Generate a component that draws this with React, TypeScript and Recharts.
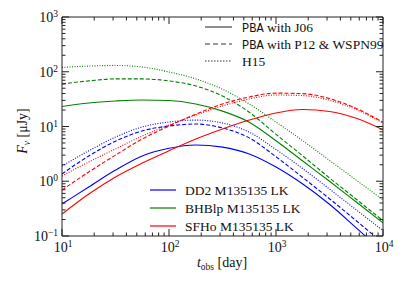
import React from 'react'
import { LineChart, Line, XAxis, YAxis } from 'recharts'

// observer time in days (log-spaced samples)
const times = [10, 17.8, 31.6, 56.2, 100, 178, 316, 562, 1000, 1778, 3162, 5623, 10000]

// flux density in microJy
const dd2J06 = [0.384, 0.785, 1.6, 2.9, 4.0, 4.6, 4.2, 3.15, 1.82, 0.89, 0.38, 0.141, 0.051]
const dd2P12 = [1.36, 2.9, 5.4, 8.3, 10.2, 11.1, 9.4, 6.2, 2.8, 1.17, 0.48, 0.19, 0.074]
const dd2H15 = [1.9, 3.6, 6.4, 9.8, 12.1, 13.1, 11.6, 7.9, 3.8, 1.7, 0.72, 0.3, 0.126]
const bhbJ06 = [23.2, 26.9, 29.2, 30.5, 29.8, 25.7, 19.1, 12.0, 5.5, 2.34, 1.0, 0.417, 0.174]
const bhbP12 = [60, 68, 74, 74, 68, 55, 36, 18.2, 7.2, 2.9, 1.15, 0.47, 0.19]
const bhbH15 = [120, 127, 130, 122, 99, 74, 48, 25.8, 12.1, 5.5, 2.4, 1.05, 0.457]
const sfhoJ06 = [0.252, 0.585, 1.2, 2.15, 3.6, 5.9, 9.0, 13.1, 17.7, 20.4, 18.8, 14.1, 8.7]
const sfhoP12 = [0.69, 1.48, 3.0, 5.9, 10.2, 16.8, 25.8, 34.6, 40.7, 39.8, 32.4, 21.4, 12.0]
const sfhoH15 = [1.25, 2.25, 3.9, 6.7, 10.6, 16.2, 23.7, 31.8, 37.6, 36.7, 30.2, 20.4, 11.5]

const xTicks = [10, 20, 30, 40, 50, 60, 70, 80, 90, 100, 200, 300, 400, 500, 600, 700, 800, 900,
  1000, 2000, 3000, 4000, 5000, 6000, 7000, 8000, 9000, 10000]
const yTicks = [0.1, 0.2, 0.3, 0.4, 0.5, 0.6, 0.7, 0.8, 0.9, 1, 2, 3, 4, 5, 6, 7, 8, 9,
  10, 20, 30, 40, 50, 60, 70, 80, 90, 100, 200, 300, 400, 500, 600, 700, 800, 900, 1000]

const models = ['DD2 M135135 LK', 'BHBlp M135135 LK', 'SFHo M135135 LK']
const modelColors = ['#0000ff', '#008000', '#ff0000']

const data = times.map((t, i) => ({
  t,
  dd2J06: dd2J06[i], dd2P12: dd2P12[i], dd2H15: dd2H15[i],
  bhbJ06: bhbJ06[i], bhbP12: bhbP12[i], bhbH15: bhbH15[i],
  sfhoJ06: sfhoJ06[i], sfhoP12: sfhoP12[i], sfhoH15: sfhoH15[i]
}))

const serif = '"Liberation Serif", "DejaVu Serif", serif'
const mono = '"Liberation Mono", "DejaVu Sans Mono", monospace'
const frame = '#222'

const isMajor = (v: number) => Math.abs(Math.log10(v) - Math.round(Math.log10(v))) < 1e-6

function expLabel(v: number) {
  const e = Math.round(Math.log10(v))
  return e < 0 ? '\u2212' + Math.abs(e) : String(e)
}

// ticks point inward on every side
function makeTick(side: 'bottom' | 'top' | 'left' | 'right') {
  return (props: any) => {
    const { x, y, payload } = props
    const v = payload.value
    const major = isMajor(v)
    const len = major ? 7 : 3.5
    let line
    if (side === 'bottom') line = <line x1={x} y1={y} x2={x} y2={y - len} stroke={frame} />
    else if (side === 'top') line = <line x1={x} y1={y} x2={x} y2={y + len} stroke={frame} />
    else if (side === 'left') line = <line x1={x} y1={y} x2={x + len} y2={y} stroke={frame} />
    else line = <line x1={x} y1={y} x2={x - len} y2={y} stroke={frame} />
    let label = null
    if (major && side === 'bottom') {
      label = (
        <text x={x + 1} y={y + 16} textAnchor="middle" fontFamily={serif} fontSize={14} fill="#111">
          10<tspan dy={-5} fontSize={9.5}>{expLabel(v)}</tspan>
        </text>
      )
    } else if (major && side === 'left') {
      label = (
        <text x={x - 4} y={y + 5} textAnchor="end" fontFamily={serif} fontSize={14} fill="#111">
          10<tspan dy={-5} fontSize={9.5}>{expLabel(v)}</tspan>
        </text>
      )
    }
    return (
      <g>
        {line}
        {label}
      </g>
    )
  }
}

const series = [
  { key: 'dd2J06', color: modelColors[0], dash: undefined },
  { key: 'dd2P12', color: modelColors[0], dash: '4 2' },
  { key: 'dd2H15', color: modelColors[0], dash: '1 1.5' },
  { key: 'bhbJ06', color: modelColors[1], dash: undefined },
  { key: 'bhbP12', color: modelColors[1], dash: '4 2' },
  { key: 'bhbH15', color: modelColors[1], dash: '1 1.5' },
  { key: 'sfhoJ06', color: modelColors[2], dash: undefined },
  { key: 'sfhoP12', color: modelColors[2], dash: '4 2' },
  { key: 'sfhoH15', color: modelColors[2], dash: '1 1.5' }
]

export default function App() {
  return (
    <div style={{ position: 'absolute', left: 0, top: 0, width: 407, height: 283, background: '#fff' }}>
      <LineChart width={407} height={283} data={data} margin={{ top: 16, right: 23, bottom: 46, left: 61 }}>
        <XAxis
          dataKey="t" type="number" scale="log" domain={[10, 10000]} ticks={xTicks} interval={0}
          height={1} tickSize={0} tickMargin={0} tickLine={false} allowDataOverflow
          axisLine={{ stroke: frame }} tick={makeTick('bottom')}
        />
        <XAxis
          xAxisId="top" orientation="top" dataKey="t" type="number" scale="log" domain={[10, 10000]}
          ticks={xTicks} interval={0} height={1} tickSize={0} tickMargin={0} tickLine={false}
          allowDataOverflow axisLine={{ stroke: frame }} tick={makeTick('top')}
        />
        <YAxis
          type="number" scale="log" domain={[0.1, 1000]} ticks={yTicks} interval={0} width={1}
          tickSize={0} tickMargin={0} tickLine={false} allowDataOverflow
          axisLine={{ stroke: frame }} tick={makeTick('left')}
        />
        <YAxis
          yAxisId="right" orientation="right" type="number" scale="log" domain={[0.1, 1000]}
          ticks={yTicks} interval={0} width={1} tickSize={0} tickMargin={0} tickLine={false}
          allowDataOverflow axisLine={{ stroke: frame }} tick={makeTick('right')}
        />
        {series.map((s) => (
          <Line
            key={s.key}
            type="monotone"
            dataKey={s.key}
            stroke={s.color}
            strokeWidth={1.1}
            strokeDasharray={s.dash}
            dot={false}
            isAnimationActive={false}
          />
        ))}
      </LineChart>
      <svg width={407} height={283} style={{ position: 'absolute', left: 0, top: 0, pointerEvents: 'none' }}>
        {/* axis labels */}
        <text transform="translate(27,131) rotate(-90)" textAnchor="middle" fontFamily={serif} fontSize={14} fill="#111">
          <tspan fontStyle="italic">F</tspan>
          <tspan fontSize={9.5} dy={3} fontStyle="italic">ν</tspan>
          <tspan dy={-3}> [μJy]</tspan>
        </text>
        <text x={222} y={267} textAnchor="middle" fontFamily={serif} fontSize={14} fill="#111">
          <tspan fontStyle="italic">t</tspan>
          <tspan fontSize={9.5} dy={3}>obs</tspan>
          <tspan dy={-3}> [day]</tspan>
        </text>
        {/* line style legend */}
        {[
          { dash: undefined, y: 27, label: ' with J06', pba: true },
          { dash: '5 3', y: 44, label: ' with P12 & WSPN99', pba: true },
          { dash: '1.5 1.5', y: 61, label: 'H15', pba: false }
        ].map((l, i) => (
          <g key={i}>
            <line x1={205} x2={232} y1={l.y} y2={l.y} stroke="#333" strokeWidth={1.1} strokeDasharray={l.dash} />
            <text x={242} y={l.y + 4.5} fontFamily={serif} fontSize={13.5} fill="#111">
              {l.pba && <tspan fontFamily={mono} fontSize={12}>PBA</tspan>}
              {l.label}
            </text>
          </g>
        ))}
        {/* model legend */}
        {models.map((m, i) => (
          <g key={m}>
            <line x1={150} x2={176} y1={190 + i * 18} y2={190 + i * 18} stroke={modelColors[i]} strokeWidth={1.2} />
            <text x={185} y={194.5 + i * 18} fontFamily={serif} fontSize={13.5} fill="#111">{m}</text>
          </g>
        ))}
      </svg>
    </div>
  )
}
